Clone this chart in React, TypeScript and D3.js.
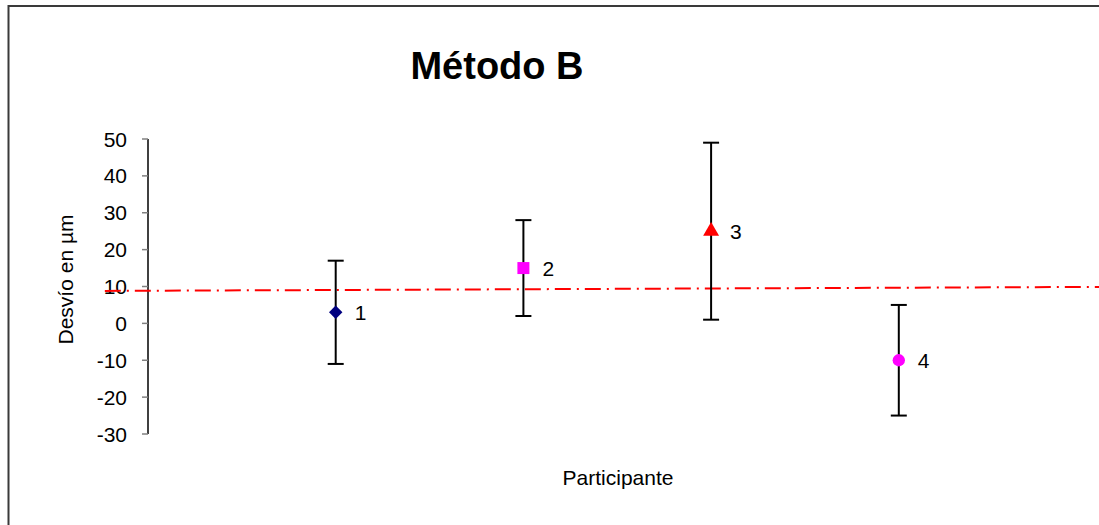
import React from 'react';
import * as d3 from 'd3';

const participants = [1, 2, 3, 4];
const deviations = [3, 15, 25, -10];
const uncertainties = [14, 13, 24, 15];
const markerShapes = ['diamond', 'square', 'triangle', 'circle'];
const markerColors = ['#000080', '#ff00ff', '#ff0000', '#ff00ff'];
const yTicks = [-30, -20, -10, 0, 10, 20, 30, 40, 50];
// reference line (dash-dot), two end points in data units
const refX = [-0.23, 5.1];
const refY = [8.8, 9.9];

const W = 1099;
const H = 525;
const font = '"Liberation Sans", Arial, sans-serif';

const x = d3.scaleLinear().domain([0, 4]).range([148, 898.8]);
const y = d3.scaleLinear().domain([-30, 50]).range([434, 139]);

// diamond = square turned 45deg, like the spreadsheet marker
const symbolFor = (s: string) => {
  if (s === 'diamond') return d3.symbol(d3.symbolSquare, 90)();
  if (s === 'square') return d3.symbol(d3.symbolSquare, 144)();
  if (s === 'triangle') return d3.symbol(d3.symbolTriangle, 110)();
  return d3.symbol(d3.symbolCircle, 120)();
};

export default function App() {
  const refLine = d3.line<number>()
    .x((d, i) => x(refX[i]))
    .y(d => y(d))(refY);

  return (
    <svg width={W} height={H} style={{ position: 'absolute', left: 0, top: 0, background: '#fff' }}>
      <path d={`M8.5,${H + 5} V6 H${W + 5}`} fill="none" stroke="#3a3a3a" strokeWidth={2} />

      <text x={497} y={79} textAnchor="middle" fontFamily={font} fontWeight="bold" fontSize={38}>
        Método B
      </text>

      {/* y axis */}
      <line x1={148} x2={148} y1={y(50)} y2={y(-30)} stroke="#000" strokeWidth={1.5} />
      {yTicks.map(t => (
        <g key={t}>
          <line x1={142} x2={148} y1={y(t)} y2={y(t)} stroke="#808080" strokeWidth={1.5} />
          <text x={127} y={y(t)} dy="0.36em" textAnchor="end" fontFamily={font} fontSize={21}>
            {t}
          </text>
        </g>
      ))}
      <text
        transform={`translate(73,${y(10) - 7}) rotate(-90)`}
        textAnchor="middle"
        fontFamily={font}
        fontSize={21}
      >
        Desvío en µm
      </text>

      <path d={refLine || ''} fill="none" stroke="#ff0000" strokeWidth={2} strokeDasharray="16,6,2,6" />

      {participants.map((p, i) => {
        const cx = x(p);
        const top = y(deviations[i] + uncertainties[i]);
        const bot = y(deviations[i] - uncertainties[i]);
        const rot = markerShapes[i] === 'diamond' ? ' rotate(45)' : '';
        return (
          <g key={p}>
            <line x1={cx} x2={cx} y1={top} y2={bot} stroke="#000" strokeWidth={2} />
            <line x1={cx - 8} x2={cx + 8} y1={top} y2={top} stroke="#000" strokeWidth={2} />
            <line x1={cx - 8} x2={cx + 8} y1={bot} y2={bot} stroke="#000" strokeWidth={2} />
            <path
              d={symbolFor(markerShapes[i]) || ''}
              transform={`translate(${cx},${y(deviations[i])})${rot}`}
              fill={markerColors[i]}
            />
            <text x={cx + 19} y={y(deviations[i])} dy="0.36em" fontFamily={font} fontSize={21}>
              {p}
            </text>
          </g>
        );
      })}

      <text x={618} y={485} textAnchor="middle" fontFamily={font} fontSize={21}>
        Participante
      </text>
    </svg>
  );
}
